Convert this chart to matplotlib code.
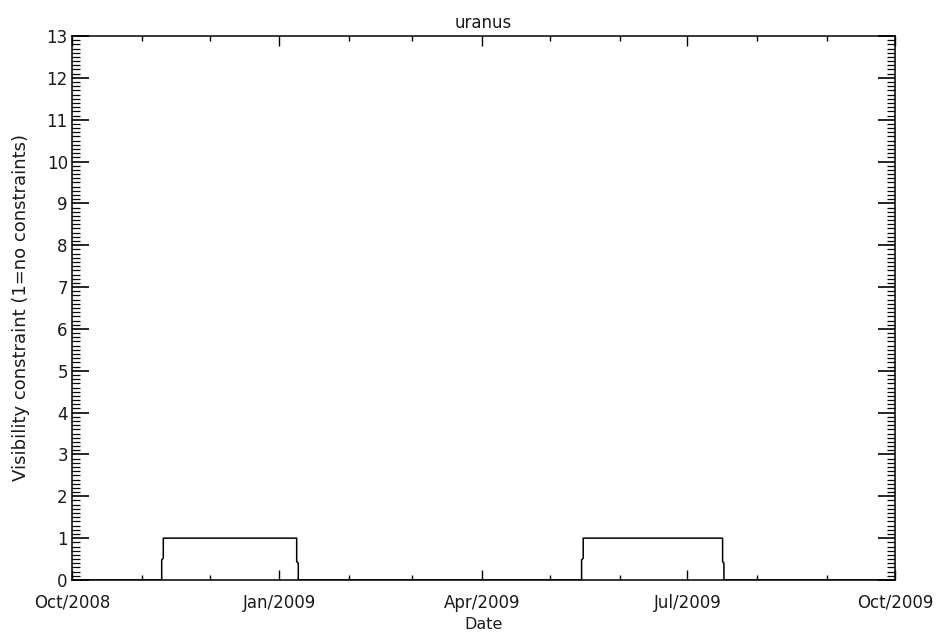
import numpy as np
import pandas as pd
import matplotlib
matplotlib.use('Agg')
import matplotlib.pyplot as plt
import matplotlib.dates as mdates
from matplotlib.ticker import MultipleLocator

# visibility windows (step edges sampled a few hours apart)
dates = pd.to_datetime([
    '2008-10-01 00:00', '2008-11-09 19:00', '2008-11-09 19:00', '2008-11-10 12:00', '2008-11-10 12:00',
    '2009-01-08 16:00', '2009-01-08 16:00', '2009-01-09 09:00', '2009-01-09 09:00',
    '2009-05-15 01:00', '2009-05-15 01:00', '2009-05-15 18:00', '2009-05-15 18:00',
    '2009-07-16 14:00', '2009-07-16 14:00', '2009-07-17 04:00', '2009-07-17 04:00',
    '2009-10-01 00:00',
])
values = [0, 0, 0.48, 0.52, 1,
          1, 0.44, 0.40, 0,
          0, 0.48, 0.52, 1,
          1, 0.44, 0.40, 0,
          0]

title = 'uranus'
ylabel = 'Visibility constraint (1=no constraints)'
xlabel = 'Date'

plt.rcParams['font.family'] = 'DejaVu Sans'
txt = '#1a1a1a'
fig = plt.figure(figsize=(9.41, 6.34), dpi=100)
ax = fig.add_axes([0.0765, 0.0852, 0.8745, 0.858])

ax.plot(dates, values, color='black', lw=1.1)

ax.set_xlim(pd.Timestamp('2008-10-01'), pd.Timestamp('2009-10-01'))
ax.set_ylim(0, 13)

ax.xaxis.set_major_locator(mdates.MonthLocator(bymonth=[1, 4, 7, 10]))
ax.xaxis.set_minor_locator(mdates.MonthLocator())
ax.xaxis.set_major_formatter(mdates.DateFormatter('%b/%Y'))
ax.yaxis.set_major_locator(MultipleLocator(1))
ax.yaxis.set_minor_locator(MultipleLocator(0.1))

ax.tick_params(axis='x', which='major', direction='in', length=7, width=1,
               top=True, labelsize=12, pad=10, labelcolor=txt)
ax.tick_params(axis='x', which='minor', direction='in', length=3.6, width=1, top=True)
ax.tick_params(axis='y', which='major', direction='in', length=12, width=1.2,
               right=True, labelsize=12, pad=3, labelcolor=txt)
ax.tick_params(axis='y', which='minor', direction='in', length=6, width=0.9, right=True)

for s in ax.spines.values():
    s.set_linewidth(1.1)

ax.set_title(title, fontsize=12, pad=6, color=txt)
ax.set_ylabel(ylabel, fontsize=13, labelpad=12, color=txt)
ax.set_xlabel(xlabel, fontsize=11.5, labelpad=4, color=txt)

fig.savefig('out.png', dpi=100)
